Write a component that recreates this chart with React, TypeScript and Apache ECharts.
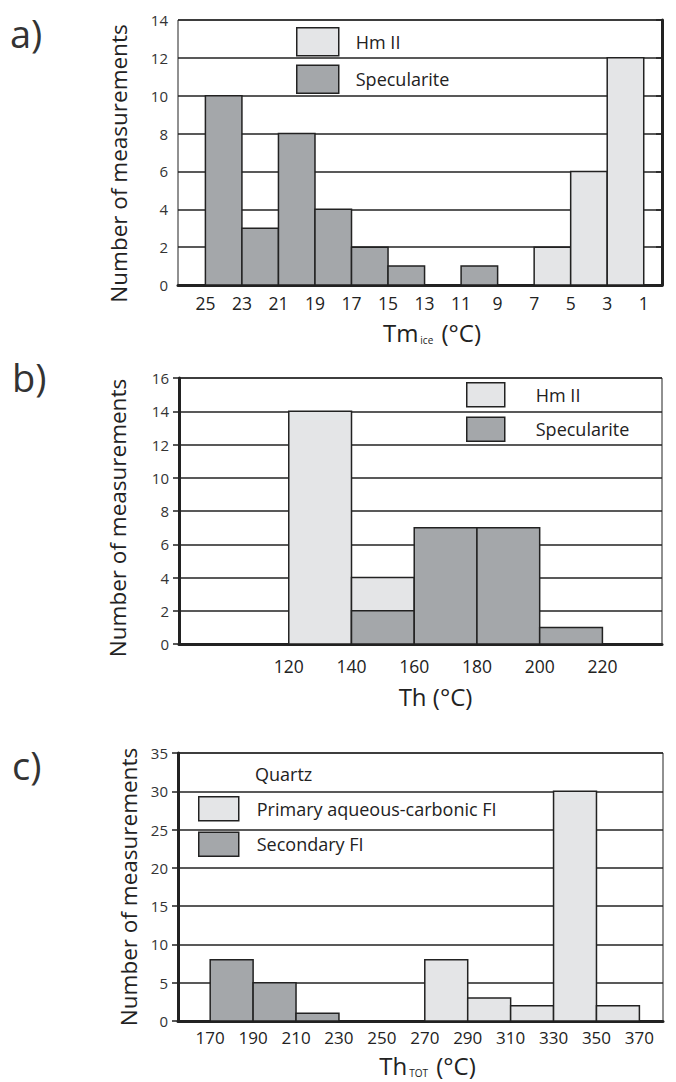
import React, { useEffect, useRef } from 'react';
import * as echarts from 'echarts';

// ---------- data ----------
// a) Tm_ice (°C), 2 °C bins, axis reads from high to low
const tmIceTicks = [25, 23, 21, 19, 17, 15, 13, 11, 9, 7, 5, 3, 1];
const tmIceSpecFrom = [25, 23, 21, 19, 17, 15, 11];
const tmIceSpecTo = [23, 21, 19, 17, 15, 13, 9];
const tmIceSpecCount = [10, 3, 8, 4, 2, 1, 1];
const tmIceHmFrom = [7, 5, 3];
const tmIceHmTo = [5, 3, 1];
const tmIceHmCount = [2, 6, 12];

// b) Th (°C), 20 °C bins
const thTicks = [120, 140, 160, 180, 200, 220];
const thHmFrom = [120, 140];
const thHmTo = [140, 160];
const thHmCount = [14, 4];
const thSpecFrom = [140, 160, 180, 200];
const thSpecTo = [160, 180, 200, 220];
const thSpecCount = [2, 7, 7, 1];

// c) Th_TOT (°C), 20 °C bins
const thTotTicks = [170, 190, 210, 230, 250, 270, 290, 310, 330, 350, 370];
const thTotSecFrom = [170, 190, 210];
const thTotSecTo = [190, 210, 230];
const thTotSecCount = [8, 5, 1];
const thTotPrimFrom = [270, 290, 310, 330, 350];
const thTotPrimTo = [290, 310, 330, 350, 370];
const thTotPrimCount = [8, 3, 2, 30, 2];

// ---------- styles ----------
const LIGHT = '#e4e5e7';
const DARK = '#a4a7aa';
const INK = '#222222';
const FONT = "'Open Sans', 'DejaVu Sans', sans-serif";

const bins = (from: number[], to: number[], count: number[]) =>
  from.map((f, i) => [f, to[i], count[i]]);

const barRender = (fill: string) => (params: any, api: any) => {
  const x0 = api.value(0);
  const x1 = api.value(1);
  const v = api.value(2);
  const pA = api.coord([x0, v]);
  const pB = api.coord([x1, 0]);
  const left = Math.min(pA[0], pB[0]);
  const w = Math.abs(pB[0] - pA[0]);
  return {
    type: 'rect',
    shape: { x: left, y: pA[1], width: w, height: pB[1] - pA[1] },
    style: { fill, stroke: INK, lineWidth: 1.5 },
  };
};

const barSeries = (name: string, idx: number, data: number[][], fill: string) => ({
  type: 'custom',
  name,
  xAxisIndex: idx,
  yAxisIndex: idx,
  data,
  encode: { x: [0, 1], y: 2 },
  renderItem: barRender(fill),
  itemStyle: { color: fill, borderColor: INK, borderWidth: 1.5 },
  z: 3,
});

const xAx = (
  gridIndex: number, min: number, max: number, ticks: number[], inverse: boolean,
  name: string, fontSize: number, margin: number, nameGap: number, padLeft: number
) => ({
  type: 'value',
  gridIndex,
  min,
  max,
  inverse,
  axisLine: { show: true, onZero: false, lineStyle: { color: INK, width: 3 } },
  axisTick: { show: false },
  splitLine: { show: false },
  axisLabel: { customValues: ticks, fontSize, color: INK, margin, fontFamily: FONT, lineHeight: fontSize },
  name,
  nameLocation: 'middle',
  nameGap,
  nameTextStyle: {
    fontSize: 24,
    lineHeight: 26,
    color: INK,
    fontFamily: FONT,
    padding: [0, 0, 0, padLeft],
    rich: {
      m: { fontSize: 24, lineHeight: 26, color: INK, fontFamily: FONT },
      s: { fontSize: 10, color: INK, fontFamily: FONT, verticalAlign: 'bottom', padding: [0, 2, 0, 2] },
    },
  },
});

const yAx = (gridIndex: number, max: number, interval: number, nameGap: number, shiftDown: number) => ({
  type: 'value',
  gridIndex,
  min: 0,
  max,
  interval,
  axisLine: { show: true, lineStyle: { color: INK, width: 3 } },
  axisTick: { show: true, length: 6, lineStyle: { color: INK, width: 1.5 } },
  axisLabel: { fontSize: 15, color: '#333', margin: 10, fontFamily: FONT },
  splitLine: { show: true, lineStyle: { color: INK, width: 1.5 } },
  name: 'Number of measurements',
  nameLocation: 'middle',
  nameGap,
  nameTextStyle: { fontSize: 22.5, color: INK, fontFamily: FONT, padding: [0, shiftDown * 2, 0, 0] },
});

const legendItem = (name: string, fill: string) => ({
  name,
  icon: 'rect',
  itemStyle: { color: fill, borderColor: INK, borderWidth: 1.5 },
});

export default function App() {
  const ref = useRef<HTMLDivElement>(null);

  useEffect(() => {
    document.body.style.margin = '0';
    const chart = echarts.init(ref.current!, undefined, { renderer: 'svg' });
    const option: any = {
      animation: false,
      backgroundColor: '#ffffff',
      textStyle: { fontFamily: FONT },
      grid: [
        { left: 178, right: 14, top: 20, height: 265, show: true, borderColor: INK, borderWidth: 1, backgroundColor: 'transparent' },
        { left: 179, right: 14, top: 378, height: 266, show: true, borderColor: INK, borderWidth: 1, backgroundColor: 'transparent' },
        { left: 178, right: 13, top: 753, height: 268, show: true, borderColor: INK, borderWidth: 1, backgroundColor: 'transparent' },
      ],
      xAxis: [
        xAx(0, 0, 26.5, tmIceTicks, true, '{m|Tm}{s|ice}{m| (°C)}', 17.5, 9, 34, 24),
        xAx(1, 85, 239, thTicks, false, 'Th (°C)', 17.5, 13, 39, 30),
        xAx(2, 155, 381, thTotTicks, false, '{m|Th}{s|TOT}{m| (°C)}', 17, 8, 31, 14),
      ],
      yAxis: [yAx(0, 14, 2, 48, 11), yAx(1, 16, 2, 50, 7), yAx(2, 35, 5, 38, 0)],
      legend: [
        {
          left: 296, top: 27, orient: 'vertical', itemWidth: 42, itemHeight: 28, itemGap: 8,
          padding: 0, selectedMode: false,
          textStyle: { fontSize: 18, color: INK, fontFamily: FONT, padding: [0, 0, 0, 12] },
          data: [legendItem('Hm II', LIGHT), legendItem('Specularite', DARK)],
        },
        {
          left: 466, top: 382, orient: 'vertical', itemWidth: 38, itemHeight: 24, itemGap: 9,
          padding: 0, selectedMode: false,
          textStyle: { fontSize: 18, color: INK, fontFamily: FONT, padding: [0, 0, 0, 26] },
          data: [legendItem('Hm II', LIGHT), legendItem('Specularite', DARK)],
        },
        {
          left: 198, top: 796, orient: 'vertical', itemWidth: 40, itemHeight: 24, itemGap: 10,
          padding: 0, selectedMode: false,
          textStyle: { fontSize: 18, color: INK, fontFamily: FONT, padding: [0, 0, 0, 13] },
          data: [legendItem('Primary aqueous-carbonic FI', LIGHT), legendItem('Secondary FI', DARK)],
        },
      ],
      graphic: [
        { type: 'text', left: 10, top: 14, style: { text: 'a)', fontSize: 38, fill: '#333', fontFamily: FONT } },
        { type: 'text', left: 12, top: 358, style: { text: 'b)', fontSize: 38, fill: '#333', fontFamily: FONT } },
        { type: 'text', left: 12, top: 746, style: { text: 'c)', fontSize: 38, fill: '#333', fontFamily: FONT } },
        { type: 'text', left: 255, top: 765, style: { text: 'Quartz', fontSize: 18, fill: INK, fontFamily: FONT } },
      ],
      series: [
        barSeries('Specularite', 0, bins(tmIceSpecFrom, tmIceSpecTo, tmIceSpecCount), DARK),
        barSeries('Hm II', 0, bins(tmIceHmFrom, tmIceHmTo, tmIceHmCount), LIGHT),
        barSeries('Hm II', 1, bins(thHmFrom, thHmTo, thHmCount), LIGHT),
        barSeries('Specularite', 1, bins(thSpecFrom, thSpecTo, thSpecCount), DARK),
        barSeries('Secondary FI', 2, bins(thTotSecFrom, thTotSecTo, thTotSecCount), DARK),
        barSeries('Primary aqueous-carbonic FI', 2, bins(thTotPrimFrom, thTotPrimTo, thTotPrimCount), LIGHT),
      ],
    };
    chart.setOption(option);
    return () => chart.dispose();
  }, []);

  return (
    <div
      ref={ref}
      style={{ position: 'absolute', left: 0, top: 0, width: 676, height: 1082 }}
    />
  );
}
